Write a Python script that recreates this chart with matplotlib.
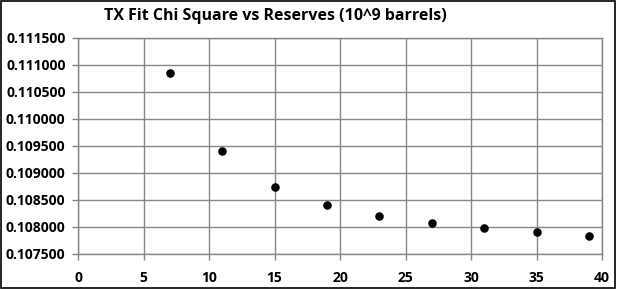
import matplotlib
matplotlib.use("Agg")
import matplotlib.pyplot as plt
from matplotlib.patches import Rectangle
from matplotlib.ticker import FormatStrFormatter, MultipleLocator

# data
reserves = [7, 11, 15, 19, 23, 27, 31, 35, 39]
chi_square = [0.110853, 0.109405, 0.108740, 0.108406, 0.108203,
              0.108073, 0.107987, 0.107907, 0.107840]

plt.rcParams['font.family'] = ['Open Sans', 'DejaVu Sans']

fig = plt.figure(figsize=(6.19, 2.89), dpi=100)
ax = fig.add_axes([78/619, 1-254/289, (602-78)/619, (254-37.7)/289])

ax.scatter(reserves, chi_square, s=38, color='black', zorder=3, linewidths=0)

ax.set_xlim(0, 40)
ax.set_ylim(0.1075, 0.1115)
ax.xaxis.set_major_locator(MultipleLocator(5))
ax.yaxis.set_major_locator(MultipleLocator(0.0005))
ax.yaxis.set_major_formatter(FormatStrFormatter('%.6f'))
ax.grid(True, color='#868686', linewidth=1)
ax.set_axisbelow(True)
for s in ax.spines.values():
    s.set_color('#868686')
    s.set_linewidth(1)
ax.tick_params(axis='both', colors='#868686', length=4, width=1,
               labelcolor='black', labelsize=10)
ax.tick_params(axis='x', pad=8)
ax.tick_params(axis='y', pad=5)
for lab in ax.get_xticklabels() + ax.get_yticklabels():
    lab.set_fontweight('bold')

fig.text(275/619, 1-16/289, 'TX Fit Chi Square vs Reserves (10^9 barrels)',
         ha='center', va='center', fontsize=11.5, fontweight='bold')

# chart frame
fig.patches.append(Rectangle((0.001, 0.002), 0.992, 0.995, transform=fig.transFigure,
                             fill=False, edgecolor='black', linewidth=1.2))

fig.savefig('out.png', dpi=100)
